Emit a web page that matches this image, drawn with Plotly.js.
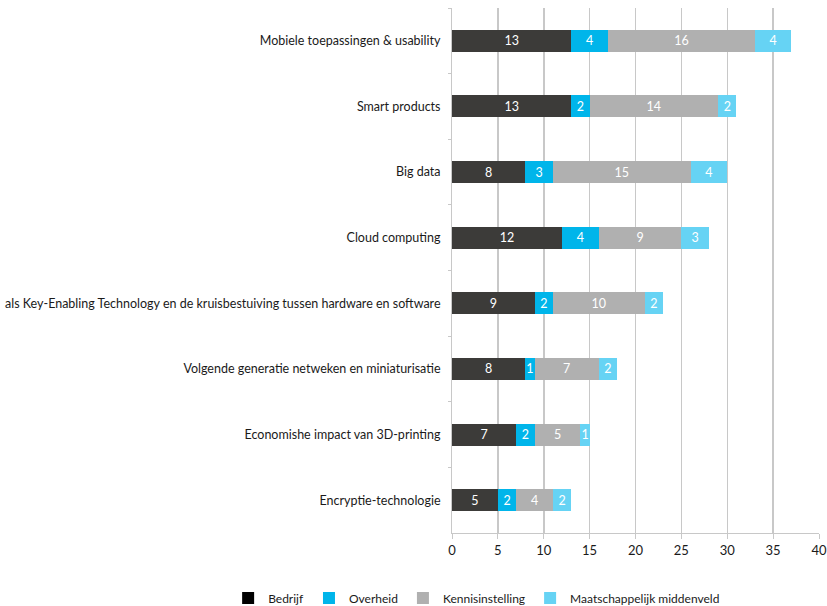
<!DOCTYPE html>
<html><head><meta charset="utf-8">
<script src="https://cdn.plot.ly/plotly-3.0.1.min.js"></script>
<style>html,body{margin:0;padding:0;background:#fff;}#chart{width:827px;height:606px;}</style>
</head><body><div id="chart"></div>
<script>
const categories = [
  "Mobiele toepassingen & usability",
  "Smart products",
  "Big data",
  "Cloud computing",
  "als Key-Enabling Technology en de kruisbestuiving tussen hardware en software",
  "Volgende generatie netweken en miniaturisatie",
  "Economishe impact van 3D-printing",
  "Encryptie-technologie"
];
const seriesNames = ["Bedrijf", "Overheid", "Kennisinstelling", "Maatschappelijk middenveld"];
const bedrijf = [13, 13, 8, 12, 9, 8, 7, 5];
const overheid = [4, 2, 3, 4, 2, 1, 2, 2];
const kennisinstelling = [16, 14, 15, 9, 10, 7, 5, 4];
const maatschappelijk = [4, 2, 4, 3, 2, 2, 1, 2];
const xTicks = [0, 5, 10, 15, 20, 25, 30, 35, 40];

const barColors = ["#3c3b39", "#00b5ea", "#b0b0b0", "#66d3f4"];
const legendColors = ["#000000", "#00b5ea", "#b0b0b0", "#66d3f4"];
const allSeries = [bedrijf, overheid, kennisinstelling, maatschappelijk];

const traces = [];
allSeries.forEach((vals, i) => {
  traces.push({
    type: "bar", orientation: "h", name: seriesNames[i],
    y: categories, x: vals,
    marker: {color: barColors[i], line: {width: 0}},
    text: vals.map(String), textposition: "inside", insidetextanchor: "middle",
    textangle: 0, constraintext: "none",
    textfont: {color: "#ffffff", size: 12.5, family: "Lato"},
    showlegend: false, hoverinfo: "skip"
  });
});
allSeries.forEach((vals, i) => {
  traces.push({
    type: "bar", orientation: "h", name: seriesNames[i],
    y: [categories[0]], x: [null],
    marker: {color: legendColors[i]}, showlegend: true, hoverinfo: "skip"
  });
});

const layout = {
  width: 827, height: 606,
  margin: {l: 452, r: 8, t: 8, b: 73, autoexpand: false},
  barmode: "stack", bargap: 0.665,
  paper_bgcolor: "#ffffff", plot_bgcolor: "#ffffff",
  font: {family: "Lato", size: 12, color: "#1a1a1a"},
  uniformtext: {minsize: 12.5, mode: "show"},
  xaxis: {
    range: [0, 40], tickvals: xTicks, ticktext: xTicks.map(String),
    showgrid: true, gridcolor: "#c8c8c8", gridwidth: 1.5,
    zeroline: false, showline: true, linecolor: "#c8c8c8", linewidth: 1,
    ticks: "outside", ticklen: 5, tickcolor: "#c8c8c8",
    tickfont: {size: 13, color: "#1a1a1a"}, fixedrange: true
  },
  yaxis: {
    autorange: "reversed", showgrid: false, zeroline: false,
    showline: true, linecolor: "#c8c8c8", linewidth: 1,
    ticks: "outside", tickson: "boundaries", ticklen: 3, tickcolor: "#c8c8c8",
    tickfont: {size: 12.5, color: "#1a1a1a"}, ticklabelstandoff: 8, fixedrange: true
  },
  legend: {
    orientation: "h", xref: "paper", x: -0.61, xanchor: "left",
    yref: "paper", y: -0.124, yanchor: "middle",
    font: {size: 12, color: "#1a1a1a"},
    itemwidth: 30, tracegroupgap: 0, traceorder: "normal"
  },
  showlegend: true
};

Plotly.newPlot("chart", traces, layout, {displayModeBar: false, staticPlot: true});
</script></body></html>
